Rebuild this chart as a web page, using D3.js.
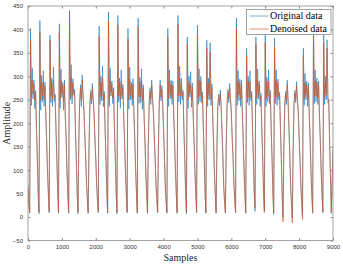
<!DOCTYPE html>
<html>
<head>
<meta charset="utf-8">
<script src="https://cdn.jsdelivr.net/npm/d3@7"></script>
<style>
    body { margin: 0; background: #fff; }
    svg { display: block; }
</style>
</head>
<body>
<div id="chart"></div>
<script>
// one value every 25 samples, one cycle per line
const sampleStep = 25;

const original = [
    70, 30,
    8, 402, 238, 318, 252, 292, 231, 270, 178, 128, 46,
    7, 419, 228, 302, 246, 312, 236, 288, 212, 167, 95, 53,
    9, 388, 244, 296, 236, 320, 247, 262, 183, 131, 51,
    8, 412, 232, 315, 255, 287, 228, 292, 210, 171, 94, 52,
    8, 440, 250, 325, 241, 295, 260, 272, 178, 130, 48,
    7, 165, 242, 282, 236, 303, 258, 226, 170, 134, 72, 42,
    8, 150, 232, 270, 241, 285, 248, 218, 162, 126, 66, 38,
    9, 407, 240, 300, 248, 322, 235, 268, 181, 129, 49,
    8, 437, 236, 318, 258, 290, 242, 276, 186, 133, 51,
    7, 430, 245, 296, 232, 314, 252, 283, 208, 164, 94, 53,
    9, 402, 230, 320, 250, 288, 238, 295, 214, 170, 98, 55,
    8, 424, 242, 298, 244, 316, 230, 282, 211, 167, 94, 53,
    8, 158, 236, 276, 240, 292, 252, 222, 166, 130, 70, 40,
    9, 160, 240, 292, 248, 280, 236, 182, 134, 64, 36,
    8, 402, 236, 314, 252, 292, 240, 290, 212, 168, 96, 53,
    8, 430, 246, 322, 240, 296, 250, 270, 183, 131, 50,
    7, 384, 232, 300, 256, 310, 234, 286, 210, 166, 95, 52,
    9, 409, 240, 316, 246, 300, 244, 266, 180, 128, 49,
    8, 377, 236, 296, 250, 372, 238, 284, 209, 165, 94, 52,
    8, 150, 230, 262, 238, 271, 232, 178, 132, 62, 36,
    8, 156, 238, 272, 244, 285, 250, 220, 164, 129, 68, 39,
    9, 424, 238, 312, 248, 294, 236, 292, 212, 168, 96, 53,
    8, 360, 244, 300, 238, 312, 248, 268, 182, 129, 48,
    12, 384, 240, 316, 252, 290, 236, 264, 180, 128, 52,
    12, 388, 236, 298, 246, 314, 242, 270, 184, 130, 50,
    8, 381, 242, 314, 238, 294, 250, 266, 180, 127, 44,
    0, 150, 232, 268, 240, 292, 244, 184, 136, 62, 31,
    -2, 152, 236, 270, 244, 289, 250, 220, 164, 128, 66, 36,
    4, 360, 238, 306, 250, 290, 236, 286, 210, 166, 94, 50,
    8, 409, 242, 314, 246, 296, 240, 290, 212, 168, 96, 52,
    9, 390, 240, 300, 250, 378, 244, 250, 152, 88,
    8, 80, 150
];

const denoised = [
    62, 28,
    11, 377, 256, 292, 262, 284, 248, 262, 193, 123, 56,
    10, 395, 248, 290, 258, 287, 250, 279, 224, 162, 106, 50,
    12, 377, 258, 286, 252, 292, 256, 258, 196, 127, 60,
    10, 392, 250, 291, 262, 280, 246, 282, 222, 166, 103, 48,
    10, 434, 262, 298, 255, 287, 266, 266, 191, 125, 57,
    10, 160, 248, 274, 250, 292, 260, 230, 182, 130, 80, 38,
    10, 148, 240, 264, 250, 276, 250, 222, 173, 122, 75, 34,
    11, 385, 256, 288, 260, 296, 250, 262, 194, 124, 58,
    10, 418, 252, 294, 266, 283, 254, 268, 198, 128, 60,
    10, 410, 258, 286, 250, 290, 260, 276, 220, 159, 104, 49,
    11, 380, 250, 294, 260, 281, 252, 284, 225, 165, 107, 50,
    10, 405, 256, 288, 256, 292, 248, 274, 223, 162, 104, 49,
    10, 155, 244, 268, 252, 282, 254, 226, 178, 126, 78, 36,
    11, 156, 248, 282, 256, 272, 240, 194, 130, 73, 32,
    10, 384, 253, 290, 262, 284, 254, 280, 223, 163, 106, 50,
    10, 412, 258, 296, 256, 286, 258, 264, 195, 126, 59,
    10, 368, 250, 288, 264, 282, 250, 277, 222, 162, 104, 49,
    11, 390, 255, 292, 258, 290, 254, 260, 192, 124, 58,
    10, 360, 252, 286, 260, 352, 252, 276, 221, 160, 103, 49,
    10, 146, 238, 256, 246, 264, 236, 190, 128, 71, 32,
    10, 152, 246, 266, 252, 276, 252, 224, 176, 125, 77, 35,
    11, 405, 254, 290, 260, 286, 252, 282, 224, 163, 105, 50,
    10, 345, 256, 290, 254, 288, 256, 262, 194, 125, 57,
    19, 368, 255, 292, 262, 282, 250, 258, 192, 124, 60,
    10, 372, 252, 288, 258, 290, 254, 262, 196, 126, 58,
    6, 364, 256, 292, 254, 286, 258, 260, 192, 122, 52,
    -10, 146, 240, 262, 250, 282, 248, 196, 132, 71, 26,
    -12, 148, 244, 264, 252, 280, 252, 224, 176, 124, 75, 32,
    -5, 344, 254, 286, 260, 282, 250, 277, 222, 162, 104, 47,
    10, 390, 256, 291, 258, 287, 254, 281, 224, 163, 105, 49,
    11, 372, 255, 288, 260, 360, 254, 248, 164, 84,
    10, 72, 140
];

const xTicks = [0, 1000, 2000, 3000, 4000, 5000, 6000, 7000, 8000, 9000];
const yTicks = [-50, 0, 50, 100, 150, 200, 250, 300, 350, 400, 450];
const seriesNames = ["Original data", "Denoised data"];
const seriesColors = ["#0072BD", "#D95319"];
const seriesOpacity = [0.6, 0.72];

class SignalChart {
    constructor(config) {
        this.parentElement = config.parentElement;
        this.width = config.width;
        this.height = config.height;
        this.margin = { top: 6, right: 10, bottom: 24.5, left: 28 };

        this.initVis();
    }

    initVis() {
        const vis = this;
        vis.innerW = vis.width - vis.margin.left - vis.margin.right;
        vis.innerH = vis.height - vis.margin.top - vis.margin.bottom;

        vis.svg = d3.select(vis.parentElement)
            .append("svg")
            .attr("width", vis.width)
            .attr("height", vis.height);

        vis.g = vis.svg.append("g")
            .attr("transform", `translate(${vis.margin.left},${vis.margin.top})`);

        vis.xScale = d3.scaleLinear().domain([0, 9000]).range([0, vis.innerW]);
        vis.yScale = d3.scaleLinear().domain([-50, 450]).range([vis.innerH, 0]);

        vis.wrangleData();
    }

    wrangleData() {
        const vis = this;
        const toPoints = arr => arr.map((v, i) => ({ x: i * sampleStep, y: v }));
        vis.series = [
            { name: seriesNames[0], color: seriesColors[0], opacity: seriesOpacity[0], values: toPoints(original) },
            { name: seriesNames[1], color: seriesColors[1], opacity: seriesOpacity[1], values: toPoints(denoised) }
        ];
        vis.updateVis();
    }

    updateVis() {
        const vis = this;
        const axisColor = "#8c8c8c";

        // lines, clipped to the box
        vis.g.append("clipPath").attr("id", "plot-clip")
            .append("rect").attr("width", vis.innerW).attr("height", vis.innerH);

        const line = d3.line()
            .x(d => vis.xScale(d.x))
            .y(d => vis.yScale(d.y));

        vis.g.append("g")
            .attr("clip-path", "url(#plot-clip)")
            .selectAll("path")
            .data(vis.series)
            .enter()
            .append("path")
            .attr("fill", "none")
            .attr("stroke", d => d.color)
            .attr("stroke-width", 0.9)
            .attr("stroke-opacity", d => d.opacity)
            .attr("stroke-linejoin", "round")
            .attr("d", d => line(d.values));

        // axes, matlab style: ticks point inward, box on
        const styleAxis = sel => {
            sel.select(".domain").remove();
            sel.selectAll("line").attr("stroke", axisColor);
            sel.selectAll("text")
                .attr("fill", "#333")
                .style("font-family", "'Liberation Sans', Arial, sans-serif")
                .style("font-size", "6px");
        };

        vis.g.append("g")
            .attr("transform", `translate(0,${vis.innerH})`)
            .call(d3.axisBottom(vis.xScale).tickValues(xTicks).tickFormat(d3.format("d"))
                .tickSizeInner(-2.5).tickSizeOuter(0).tickPadding(4))
            .call(styleAxis);

        vis.g.append("g")
            .call(d3.axisTop(vis.xScale).tickValues(xTicks).tickFormat("")
                .tickSizeInner(-2.5).tickSizeOuter(0))
            .call(styleAxis);

        vis.g.append("g")
            .call(d3.axisLeft(vis.yScale).tickValues(yTicks).tickFormat(d3.format("d"))
                .tickSizeInner(-2.5).tickSizeOuter(0).tickPadding(5))
            .call(styleAxis);

        vis.g.append("g")
            .attr("transform", `translate(${vis.innerW},0)`)
            .call(d3.axisRight(vis.yScale).tickValues(yTicks).tickFormat("")
                .tickSizeInner(-2.5).tickSizeOuter(0))
            .call(styleAxis);

        vis.g.append("rect")
            .attr("width", vis.innerW)
            .attr("height", vis.innerH)
            .attr("fill", "none")
            .attr("stroke", axisColor)
            .attr("stroke-width", 0.8);

        // axis labels
        vis.svg.append("text")
            .attr("x", vis.margin.left + vis.innerW / 2)
            .attr("y", 261)
            .attr("text-anchor", "middle")
            .style("font-family", "'Liberation Serif', 'Times New Roman', serif")
            .style("font-size", "10px")
            .attr("fill", "#262626")
            .text("Samples");

        vis.svg.append("text")
            .attr("transform", `translate(9.5,${vis.margin.top + vis.innerH / 2}) rotate(-90)`)
            .attr("text-anchor", "middle")
            .style("font-family", "'Liberation Serif', 'Times New Roman', serif")
            .style("font-size", "10px")
            .attr("fill", "#262626")
            .text("Amplitude");

        // legend
        const legend = vis.svg.append("g")
            .attr("transform", "translate(246.5,9.5)");

        legend.append("rect")
            .attr("width", 84.5)
            .attr("height", 25)
            .attr("fill", "#fff")
            .attr("stroke", axisColor)
            .attr("stroke-width", 0.8);

        const item = legend.selectAll(".legend")
            .data(vis.series)
            .enter()
            .append("g")
            .attr("class", "legend")
            .attr("transform", (d, i) => `translate(0,${6.5 + i * 13})`);

        item.append("line")
            .attr("x1", 3)
            .attr("x2", 22)
            .attr("stroke", d => d.color)
            .attr("stroke-width", 0.9)
            .attr("stroke-opacity", d => d.opacity);

        item.append("text")
            .attr("x", 23.5)
            .attr("y", 3.3)
            .style("font-family", "'Liberation Serif', 'Times New Roman', serif")
            .style("font-size", "10px")
            .attr("fill", "#000")
            .text(d => d.name);
    }
}

new SignalChart({ parentElement: "#chart", width: 343, height: 265 });
</script>
</body>
</html>
